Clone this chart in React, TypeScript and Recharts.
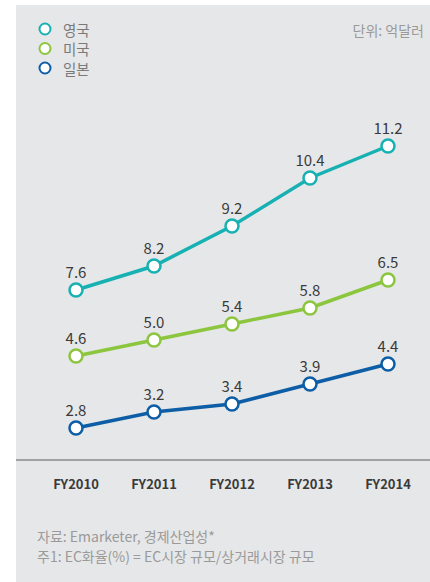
import React from "react";
import { LineChart, Line, XAxis, YAxis, LabelList } from "recharts";

// chart values
const years = ["FY2010", "FY2011", "FY2012", "FY2013", "FY2014"];
const uk = [7.6, 8.2, 9.2, 10.4, 11.2];
const us = [4.6, 5.0, 5.4, 5.8, 6.5];
const japan = [2.8, 3.2, 3.4, 3.9, 4.4];

const seriesNames = ["영국", "미국", "일본"];
const COLORS = ["#17b1b3", "#8cc63f", "#0d5ea6"];
const FONT = "'Noto Sans CJK KR', 'Noto Sans', sans-serif";

const data = years.map((year, i) => ({
  year,
  uk: uk[i],
  us: us[i],
  japan: japan[i],
}));

const LegendBox = () => (
  <svg width={120} height={80} style={{ display: "block" }}>
    {seriesNames.map((name, i) => (
      <g key={name}>
        <circle
          cx={45}
          cy={29 + i * 19.5}
          r={5.5}
          fill="#fff"
          stroke={COLORS[i]}
          strokeWidth={2}
        />
        <text
          x={63}
          y={29 + i * 19.5}
          dominantBaseline="central"
          fontSize={14.5}
          fill="#7a7a7a"
          fontFamily={FONT}
        >
          {name}
        </text>
      </g>
    ))}
  </svg>
);

const App: React.FC = () => {
  const keys = ["uk", "us", "japan"];
  return (
    <div
      style={{
        position: "absolute",
        left: 0,
        top: 0,
        width: 430,
        height: 582,
        background: "#fff",
        fontFamily: FONT,
      }}
    >
      <div
        style={{
          position: "absolute",
          left: 16,
          top: 5,
          width: 414,
          height: 577,
          background: "#e6e7e8",
        }}
      />
      <div style={{ position: "absolute", left: 0, top: 0 }}>
        <LineChart
          width={430}
          height={582}
          data={data}
          margin={{ top: 60, right: 0, bottom: 92, left: 16 }}
        >
          <XAxis
            dataKey="year"
            height={30}
            padding={{ left: 60, right: 42 }}
            axisLine={{ stroke: "#8a8a8a", strokeWidth: 1.5 }}
            tickLine={false}
            tickMargin={14}
            tick={{ fontSize: 13, fontWeight: 700, fill: "#3a3a3a", fontFamily: FONT }}
            interval={0}
          />
          <YAxis yAxisId="uk" hide domain={[3.35, 13.35]} />
          <YAxis yAxisId="rest" hide domain={[2, 12]} />
          {keys.map((k, i) => (
            <Line
              key={k}
              yAxisId={k === "uk" ? "uk" : "rest"}
              dataKey={k}
              name={seriesNames[i]}
              stroke={COLORS[i]}
              strokeWidth={3.5}
              dot={{ r: 6.5, fill: "#fff", stroke: COLORS[i], strokeWidth: 2.5 }}
              activeDot={false}
              isAnimationActive={false}
            >
              <LabelList
                dataKey={k}
                position="top"
                offset={12}
                formatter={(v: number) => v.toFixed(1)}
                style={{ fontSize: 15, fill: "#3a3a3a", fontFamily: FONT }}
              />
            </Line>
          ))}
        </LineChart>
      </div>
      <div style={{ position: "absolute", left: 0, top: 0 }}>
        <LegendBox />
      </div>
      <div
        style={{
          position: "absolute",
          right: 6,
          top: 20,
          fontSize: 14,
          color: "#9a9a9a",
        }}
      >
        단위: 억달러
      </div>
      <div
        style={{
          position: "absolute",
          left: 37,
          top: 526,
          fontSize: 14,
          lineHeight: "20px",
          color: "#9a9a9a",
        }}
      >
        <div>자료: Emarketer, 경제산업성*</div>
        <div>주1: EC화율(%) = EC시장 규모/상거래시장 규모</div>
      </div>
    </div>
  );
};

export default App;
